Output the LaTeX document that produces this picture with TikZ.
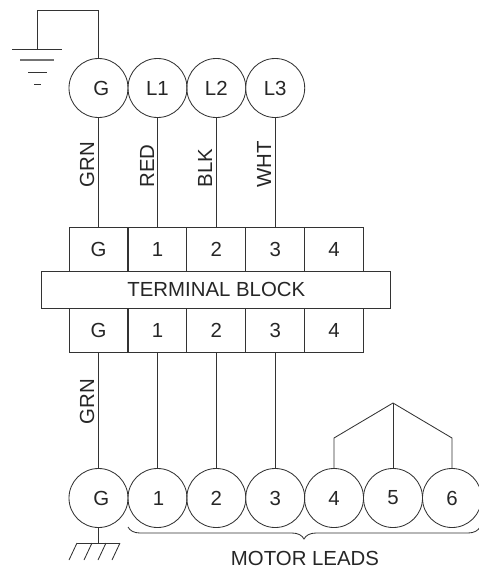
\documentclass[tikz,border=0pt]{standalone}
\usepackage{fontspec}
\setmainfont{Liberation Sans}
\usetikzlibrary{decorations.pathreplacing}
\definecolor{inkgray}{gray}{0.2}
\tikzset{
    lead/.style={draw=inkgray, circle, minimum size=1.475cm, inner sep=0pt},
    cell/.style={draw=inkgray, minimum width=1.47cm, minimum height=1.1cm, inner sep=0pt},
    wirelabel/.style={rotate=90, anchor=west, inner sep=0pt}
}
\begin{document}
\begin{tikzpicture}[x=.025cm, y=-.025cm, color=inkgray, text=black!85, line width=.6pt,
    every node/.style={font=\fontsize{14.5}{16}\selectfont}]
\useasboundingbox (0,0) rectangle (479,572);

%supply leads
\node[lead](lead_g)at(98.5,88){\kern.14cm G};
\node[lead](lead_l1)at(157.5,88){L1};
\node[lead](lead_l2)at(216.3,88){L2};
\node[lead](lead_l3)at(275.2,88){L3};

%terminal block
\node[cell](top_g)at(98.5,249){G};
\node[cell](top_1)at(157.5,249){1};
\node[cell](top_2)at(216.3,249){2};
\node[cell](top_3)at(275.2,249){3};
\node[cell](top_4)at(334,249){4};
\node[cell](bot_g)at(98.5,330){G};
\node[cell](bot_1)at(157.5,330){1};
\node[cell](bot_2)at(216.3,330){2};
\node[cell](bot_3)at(275.2,330){3};
\node[cell](bot_4)at(334,330){4};
\node[draw=inkgray, fill=white, minimum width=8.72cm, minimum height=.925cm,
    inner sep=0pt](block)at(216.3,289.5){TERMINAL BLOCK};

%motor leads
\node[lead](motor_g)at(98.5,498){\kern.14cm G};
\node[lead](motor_1)at(157.5,498){\kern.05cm 1};
\node[lead](motor_2)at(216.3,498){2};
\node[lead](motor_3)at(275.2,498){3};
\node[lead](motor_4)at(334,498){4};
\node[lead](motor_5)at(393,498){5};
\node[lead](motor_6)at(452,498){6};

%wires
\draw(lead_g)--(top_g);
\draw(lead_l1)--(top_1);
\draw(lead_l2)--(top_2);
\draw(lead_l3)--(top_3);
\draw(bot_g)--(motor_g);
\draw(bot_1)--(motor_1);
\draw(bot_2)--(motor_2);
\draw(bot_3)--(motor_3);

\node[wirelabel](label_grn)at(87,188){GRN};
\node[wirelabel](label_red)at(147,188){RED};
\node[wirelabel](label_blk)at(205,188){BLK};
\node[wirelabel](label_wht)at(264,188){WHT};
\node[wirelabel](label_grn2)at(87,425){GRN};

%jumper on 4 5 6
\coordinate(apex)at(393,403);
\draw(motor_4.north)--(334,438)--(apex)--(452,438)--(motor_6.north);
\draw(apex)--(motor_5.north);

%earth
\coordinate(earth)at(37,49);
\draw(lead_g.north)|-(37,10)--(earth);
\draw(12,49)--(62,49);
\draw[line width=1pt, color=black!55](20,60)--(54,60);
\draw(28,72)--(47,72);
\draw(34,84)--(41,84);

%chassis
\coordinate(chassis)at(98.5,543);
\draw(motor_g)--(chassis);
\draw(77,543)--(120,543);
\draw(77,543)--(69,560);
\draw(92,543)--(84,560);
\draw(106,543)--(98,560);
\draw(120,543)--(112,560);

%brace
\draw[decorate, decoration={brace, mirror, amplitude=.3cm}](128,527)--(480,527);
\node[inner sep=0pt](motor_text)at(305,558){MOTOR LEADS};
\end{tikzpicture}
\end{document}
